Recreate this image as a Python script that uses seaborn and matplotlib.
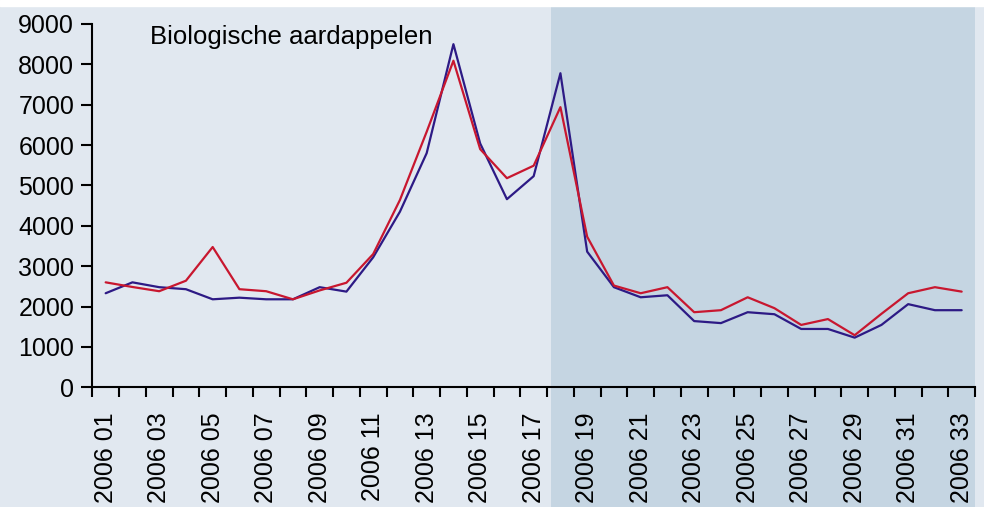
import numpy as np
import pandas as pd
import seaborn as sns
from matplotlib import pyplot as plt
from matplotlib.ticker import FixedLocator

# weeks 2006 01 .. 2006 33
weeks = ['2006 %02d' % w for w in range(1, 34)]

# red series
serie_rood = [2600, 2485, 2380, 2640, 3475, 2430, 2380, 2180, 2400, 2590,
              3300, 4640, 6330, 8090, 5900, 5180, 5490, 6940, 3730, 2520,
              2330, 2480, 1860, 1910, 2230, 1960, 1545, 1690, 1290, 1820,
              2330, 2480, 2370]
# blue series
serie_blauw = [2330, 2600, 2480, 2430, 2180, 2220, 2180, 2180, 2480, 2370,
               3220, 4350, 5800, 8500, 6040, 4660, 5230, 7780, 3360, 2480,
               2230, 2280, 1640, 1590, 1860, 1810, 1445, 1445, 1230, 1545,
               2060, 1910, 1910]

title = 'Biologische aardappelen'
bg = '#e1e8f0'
bg_dark = '#c5d5e2'
rood = '#c8172f'
blauw = '#2d1a85'

df = pd.DataFrame({
    'week': list(range(len(weeks))) * 2,
    'waarde': serie_blauw + serie_rood,
    'serie': ['blauw'] * len(weeks) + ['rood'] * len(weeks),
})

sns.set_style('white')
plt.rcParams['font.family'] = ['Liberation Sans', 'DejaVu Sans']
plt.rcParams['text.color'] = 'black'
plt.rcParams['xtick.color'] = 'black'
plt.rcParams['ytick.color'] = 'black'

fig = plt.figure(figsize=(9.84, 5.07), dpi=100, facecolor=bg)
ax = fig.add_axes([0.0938, 0.2361, 0.8971, 0.7166])
ax.set_facecolor(bg)

# darker panel from week 18 onwards, running over the labels too
ax.axvspan(16.65, 32.5, ymin=-0.35, ymax=1.05, color=bg_dark, lw=0,
           clip_on=False, zorder=0)
# white strip at the very top
fig.patches.append(plt.Rectangle((0, 1 - 6 / 507), 1, 6 / 507,
                                 transform=fig.transFigure, color='white',
                                 zorder=5))

sns.lineplot(data=df, x='week', y='waarde', hue='serie',
             palette={'blauw': blauw, 'rood': rood}, linewidth=1.6,
             legend=False, ax=ax, zorder=3)

ax.set_xlim(-0.5, 32.5)
ax.set_ylim(0, 9000)
ax.set_yticks(range(0, 9001, 1000))
ax.set_xticks(range(0, 33, 2))
ax.set_xticklabels(weeks[::2], rotation=90, va='top', ha='center')
ax.xaxis.set_minor_locator(FixedLocator(np.arange(-0.5, 33, 1)))
ax.tick_params(axis='x', which='major', length=0, pad=18, labelsize=18,
               labelcolor='black')
ax.tick_params(axis='x', which='minor', length=7, width=1.5, color='black',
               direction='out', bottom=True)
ax.tick_params(axis='y', length=8, width=1.5, color='black', direction='out',
               left=True, labelsize=18, pad=5, labelcolor='black')
ax.set_xlabel('')
ax.set_ylabel('')

for side in ['top', 'right']:
    ax.spines[side].set_visible(False)
for side in ['left', 'bottom']:
    ax.spines[side].set_color('black')
    ax.spines[side].set_linewidth(1.5)

ax.text(0.065, 0.997, title, transform=ax.transAxes, fontsize=18.5,
        va='top', ha='left', color='black')

fig.savefig('out.png', dpi=100, facecolor=bg)
